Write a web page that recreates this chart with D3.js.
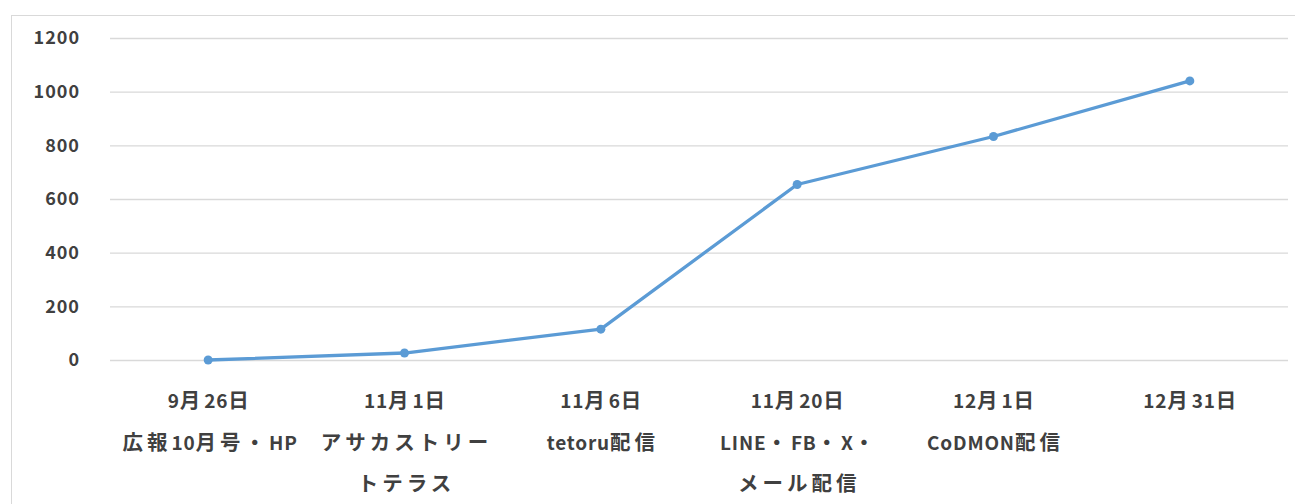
<!DOCTYPE html>
<html>
<head>
<meta charset="utf-8">
<script src="https://cdn.jsdelivr.net/npm/d3@7"></script>
<style>
  body { margin: 0; background: #fff; }
  .axis text { font-family: "Noto Sans CJK JP", "Noto Sans", sans-serif; font-weight: bold; fill: #404040; }
</style>
</head>
<body>
<svg class="chart"></svg>
<script>
var dates = ["9月26日", "11月1日", "11月6日", "11月20日", "12月1日", "12月31日"];
var notes = [
  ["広報10月号・HP"],
  ["アサカストリー", "トテラス"],
  ["tetoru配信"],
  ["LINE・FB・X・", "メール配信"],
  ["CoDMON配信"],
  []
];
var counts = [0, 26, 115, 654, 833, 1040];
var yTicks = [0, 200, 400, 600, 800, 1000, 1200];

var W = 1295, H = 504;
var margin = {top: 38, right: 7, bottom: 144, left: 110},
    width = W - margin.left - margin.right,
    height = H - margin.top - margin.bottom;

var svg = d3.select(".chart").attr("width", W).attr("height", H);

// chart frame
svg.append("rect")
  .attr("x", 11.5).attr("y", 15.5)
  .attr("width", W + 20).attr("height", H + 20)
  .attr("fill", "none").attr("stroke", "#d9d9d9");

var chart = svg.append("g")
  .attr("transform", "translate(" + margin.left + "," + margin.top + ")");

var data = dates.map(function(d, i) { return {date: d, note: notes[i], value: counts[i]}; });

var x = d3.scaleBand().domain(dates).range([0, width]);
var y = d3.scaleLinear().domain([0, 1200]).range([height, 0]);

// gridlines + y labels
var yAxis = chart.append("g")
  .attr("class", "axis")
  .call(d3.axisLeft(y).tickValues(yTicks).tickFormat(d3.format("d")).tickSize(-width).tickPadding(30));
yAxis.select(".domain").remove();
yAxis.selectAll("line").attr("stroke", "#d9d9d9").attr("stroke-width", 1.3);
yAxis.selectAll("text").attr("font-size", 18).attr("letter-spacing", 1);

// x labels
var xAxis = chart.append("g")
  .attr("class", "axis")
  .attr("transform", "translate(0," + height + ")")
  .call(d3.axisBottom(x).tickSize(0).tickFormat(""));
xAxis.select(".domain").remove();

// split a label into runs of full-width and half-width chars
function runs(s) {
  var out = [];
  Array.from(s).forEach(function(c) {
    var wide = c.charCodeAt(0) > 0x2000;
    if (out.length && out[out.length - 1].wide === wide) out[out.length - 1].s += c;
    else out.push({s: c, wide: wide});
  });
  return out;
}

var lab = chart.append("g").attr("class", "axis");
data.forEach(function(d) {
  var cx = x(d.date) + x.bandwidth() / 2 + 2;
  var lines = [d.date].concat(d.note);
  var t = lab.append("text")
    .attr("y", height + 48)
    .attr("text-anchor", "middle");
  lines.forEach(function(s, k) {
    runs(s).forEach(function(r, j) {
      var ts = t.append("tspan")
        .attr("font-size", r.wide ? 20.5 : 19)
        .attr("letter-spacing", r.wide ? 4 : 0.8)
        .text(r.s);
      if (j === 0) ts.attr("x", cx).attr("dy", k === 0 ? 0 : 41.5);
    });
  });
});

var line = d3.line()
  .x(function(d) { return x(d.date) + x.bandwidth() / 2; })
  .y(function(d) { return y(d.value); });

chart.append("path")
  .datum(data)
  .attr("d", line)
  .attr("fill", "none")
  .attr("stroke", "#5b9bd5")
  .attr("stroke-width", 3.3)
  .attr("stroke-linejoin", "round");

chart.selectAll(".dot")
  .data(data)
  .enter().append("circle")
  .attr("class", "dot")
  .attr("cx", function(d) { return x(d.date) + x.bandwidth() / 2; })
  .attr("cy", function(d) { return y(d.value); })
  .attr("r", 4.5)
  .attr("fill", "#5b9bd5");
</script>
</body>
</html>
